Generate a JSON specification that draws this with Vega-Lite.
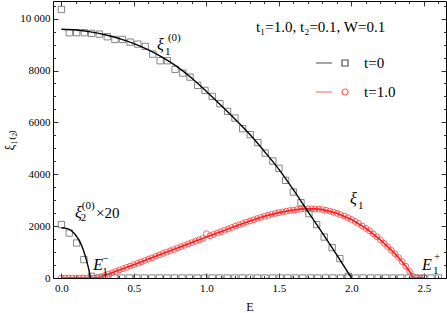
{
  "$schema": "https://vega.github.io/schema/vega-lite/v6.json",
  "width": 393,
  "height": 277,
  "autosize": {"type": "none"},
  "padding": {"left": 53, "top": 1, "right": 1, "bottom": 35},
  "background": "white",
  "config": {
    "view": {"stroke": "black", "strokeWidth": 1},
    "font": "Liberation Serif",
    "axis": {"labelFont": "Liberation Serif", "titleFont": "Liberation Serif", "labelColor": "black", "titleColor": "black", "tickColor": "black", "grid": false, "domain": false, "labelFontSize": 11, "titleFontSize": 12, "titleFontWeight": "normal", "tickWidth": 0.8},
    "legend": {"labelFont": "Liberation Serif"}
  },
  "datasets": {
    "sq1": [
      {"E": 0.0, "v": 10354}, {"E": 0.054, "v": 9457}, {"E": 0.105, "v": 9457}, {"E": 0.158, "v": 9457},
      {"E": 0.208, "v": 9430}, {"E": 0.261, "v": 9402}, {"E": 0.316, "v": 9302}, {"E": 0.369, "v": 9198},
      {"E": 0.421, "v": 9198}, {"E": 0.474, "v": 9094}, {"E": 0.527, "v": 9017}, {"E": 0.578, "v": 8929},
      {"E": 0.63, "v": 8632}, {"E": 0.681, "v": 8377}, {"E": 0.731, "v": 8377}, {"E": 0.784, "v": 8043},
      {"E": 0.837, "v": 7900}, {"E": 0.887, "v": 7746}, {"E": 0.94, "v": 7426}, {"E": 0.99, "v": 7233},
      {"E": 1.04, "v": 7002}, {"E": 1.093, "v": 6721}, {"E": 1.146, "v": 6424}, {"E": 1.197, "v": 6166},
      {"E": 1.25, "v": 5757}, {"E": 1.302, "v": 5526}, {"E": 1.355, "v": 5218}, {"E": 1.405, "v": 4817},
      {"E": 1.458, "v": 4509}, {"E": 1.5, "v": 4230}, {"E": 1.546, "v": 3765}, {"E": 1.599, "v": 3314},
      {"E": 1.652, "v": 2906}, {"E": 1.707, "v": 2482}, {"E": 1.76, "v": 2058}, {"E": 1.812, "v": 1580},
      {"E": 1.867, "v": 1171}, {"E": 1.92, "v": 748}, {"E": 1.978, "v": 65}
    ],
    "sq2": [
      {"E": 0.0, "v": 2058}, {"E": 0.054, "v": 1734}, {"E": 0.105, "v": 1349}, {"E": 0.155, "v": 709}, {"E": 0.208, "v": 65},
      {"E": 0.26, "v": 0}, {"E": 0.312, "v": 0}, {"E": 0.364, "v": 0}, {"E": 0.416, "v": 0}, {"E": 0.468, "v": 0},
      {"E": 0.52, "v": 0}, {"E": 0.572, "v": 0}, {"E": 0.624, "v": 0}, {"E": 0.676, "v": 0}, {"E": 0.728, "v": 0},
      {"E": 0.78, "v": 0}, {"E": 0.832, "v": 0}, {"E": 0.884, "v": 0}, {"E": 0.936, "v": 0}, {"E": 0.988, "v": 0},
      {"E": 1.04, "v": 0}, {"E": 1.092, "v": 0}, {"E": 1.144, "v": 0}, {"E": 1.196, "v": 0}, {"E": 1.248, "v": 0},
      {"E": 1.3, "v": 0}, {"E": 1.352, "v": 0}, {"E": 1.404, "v": 0}, {"E": 1.456, "v": 0}, {"E": 1.508, "v": 0},
      {"E": 1.56, "v": 0}, {"E": 1.612, "v": 0}, {"E": 1.664, "v": 0}, {"E": 1.716, "v": 0}, {"E": 1.768, "v": 0},
      {"E": 1.82, "v": 0}, {"E": 1.872, "v": 0}, {"E": 1.924, "v": 0}, {"E": 1.976, "v": 0}, {"E": 2.028, "v": 0},
      {"E": 2.08, "v": 0}, {"E": 2.132, "v": 0}, {"E": 2.184, "v": 0}, {"E": 2.236, "v": 0}, {"E": 2.288, "v": 0},
      {"E": 2.34, "v": 0}, {"E": 2.392, "v": 0}, {"E": 2.444, "v": 0}, {"E": 2.496, "v": 0}, {"E": 2.548, "v": 0},
      {"E": 2.6, "v": 0}
    ],
    "l1": [
      {"E": 0.0, "v": 9590}, {"E": 0.1, "v": 9560}, {"E": 0.2, "v": 9490}, {"E": 0.3, "v": 9380},
      {"E": 0.4, "v": 9230}, {"E": 0.5, "v": 9040}, {"E": 0.6, "v": 8800}, {"E": 0.7, "v": 8500},
      {"E": 0.8, "v": 8140}, {"E": 0.9, "v": 7700}, {"E": 1.0, "v": 7190}, {"E": 1.1, "v": 6660},
      {"E": 1.2, "v": 6110}, {"E": 1.3, "v": 5530}, {"E": 1.4, "v": 4880}, {"E": 1.5, "v": 4190},
      {"E": 1.6, "v": 3400}, {"E": 1.7, "v": 2560}, {"E": 1.8, "v": 1730}, {"E": 1.9, "v": 880},
      {"E": 2.0, "v": 0}
    ],
    "l2": [
      {"E": 0.0, "v": 1940}, {"E": 0.025, "v": 1925}, {"E": 0.05, "v": 1880}, {"E": 0.075, "v": 1790},
      {"E": 0.1, "v": 1640}, {"E": 0.125, "v": 1420}, {"E": 0.15, "v": 1100}, {"E": 0.175, "v": 640},
      {"E": 0.19, "v": 300}, {"E": 0.2, "v": 0}
    ],
    "rp": [
      {"E": 0.0, "v": 0}, {"E": 0.025, "v": 0}, {"E": 0.05, "v": 0}, {"E": 0.075, "v": 0}, {"E": 0.1, "v": 0},
      {"E": 0.125, "v": 0}, {"E": 0.15, "v": 0}, {"E": 0.175, "v": 0}, {"E": 0.2, "v": 0}, {"E": 0.225, "v": 0},
      {"E": 0.25, "v": 10}, {"E": 0.275, "v": 50}, {"E": 0.3, "v": 100}, {"E": 0.325, "v": 150}, {"E": 0.35, "v": 200},
      {"E": 0.375, "v": 255}, {"E": 0.4, "v": 305}, {"E": 0.425, "v": 360}, {"E": 0.45, "v": 410}, {"E": 0.475, "v": 460},
      {"E": 0.5, "v": 515}, {"E": 0.525, "v": 570}, {"E": 0.55, "v": 620}, {"E": 0.575, "v": 675}, {"E": 0.6, "v": 730},
      {"E": 0.625, "v": 780}, {"E": 0.65, "v": 835}, {"E": 0.675, "v": 890}, {"E": 0.7, "v": 945}, {"E": 0.725, "v": 995},
      {"E": 0.75, "v": 1050}, {"E": 0.775, "v": 1100}, {"E": 0.8, "v": 1155}, {"E": 0.825, "v": 1205}, {"E": 0.85, "v": 1260},
      {"E": 0.875, "v": 1315}, {"E": 0.9, "v": 1365}, {"E": 0.925, "v": 1420}, {"E": 0.95, "v": 1470}, {"E": 0.975, "v": 1525},
      {"E": 1.0, "v": 1710}, {"E": 1.025, "v": 1630}, {"E": 1.05, "v": 1680}, {"E": 1.075, "v": 1735}, {"E": 1.1, "v": 1785},
      {"E": 1.125, "v": 1840}, {"E": 1.15, "v": 1895}, {"E": 1.175, "v": 1945}, {"E": 1.2, "v": 2000}, {"E": 1.225, "v": 2050},
      {"E": 1.25, "v": 2100}, {"E": 1.275, "v": 2150}, {"E": 1.3, "v": 2200}, {"E": 1.325, "v": 2245}, {"E": 1.35, "v": 2290},
      {"E": 1.375, "v": 2335}, {"E": 1.4, "v": 2380}, {"E": 1.425, "v": 2420}, {"E": 1.45, "v": 2455}, {"E": 1.475, "v": 2490},
      {"E": 1.5, "v": 2520}, {"E": 1.525, "v": 2550}, {"E": 1.55, "v": 2575}, {"E": 1.575, "v": 2600}, {"E": 1.6, "v": 2620},
      {"E": 1.625, "v": 2640}, {"E": 1.65, "v": 2655}, {"E": 1.675, "v": 2665}, {"E": 1.7, "v": 2670}, {"E": 1.725, "v": 2670},
      {"E": 1.75, "v": 2665}, {"E": 1.775, "v": 2655}, {"E": 1.8, "v": 2635}, {"E": 1.825, "v": 2610}, {"E": 1.85, "v": 2580},
      {"E": 1.875, "v": 2540}, {"E": 1.9, "v": 2495}, {"E": 1.925, "v": 2445}, {"E": 1.95, "v": 2390}, {"E": 1.975, "v": 2325},
      {"E": 2.0, "v": 2255}, {"E": 2.025, "v": 2180}, {"E": 2.05, "v": 2100}, {"E": 2.075, "v": 2010}, {"E": 2.1, "v": 1915},
      {"E": 2.125, "v": 1815}, {"E": 2.15, "v": 1705}, {"E": 2.175, "v": 1590}, {"E": 2.2, "v": 1470}, {"E": 2.225, "v": 1340},
      {"E": 2.25, "v": 1205}, {"E": 2.275, "v": 1070}, {"E": 2.3, "v": 940}, {"E": 2.325, "v": 790}, {"E": 2.35, "v": 630},
      {"E": 2.375, "v": 450}, {"E": 2.4, "v": 260}, {"E": 2.425, "v": 60}, {"E": 2.45, "v": 0}, {"E": 2.475, "v": 0},
      {"E": 2.5, "v": 0}
    ],
    "rl": [
      {"E": 0.0, "v": 0}, {"E": 0.25, "v": 0}, {"E": 0.3, "v": 100}, {"E": 0.4, "v": 305}, {"E": 0.5, "v": 515},
      {"E": 0.6, "v": 730}, {"E": 0.7, "v": 945}, {"E": 0.8, "v": 1155}, {"E": 0.9, "v": 1365}, {"E": 1.0, "v": 1580},
      {"E": 1.1, "v": 1785}, {"E": 1.2, "v": 2000}, {"E": 1.3, "v": 2200}, {"E": 1.4, "v": 2380}, {"E": 1.5, "v": 2520},
      {"E": 1.6, "v": 2620}, {"E": 1.65, "v": 2655}, {"E": 1.7, "v": 2670}, {"E": 1.75, "v": 2665}, {"E": 1.8, "v": 2635},
      {"E": 1.9, "v": 2495}, {"E": 2.0, "v": 2255}, {"E": 2.1, "v": 1915}, {"E": 2.2, "v": 1470}, {"E": 2.3, "v": 940},
      {"E": 2.35, "v": 630}, {"E": 2.4, "v": 260}, {"E": 2.43, "v": 0}, {"E": 2.5, "v": 0}
    ],
    "ann": [
      {"E": 0.659, "v": 8775, "t": "ξ", "r": "main"},
      {"E": 0.714, "v": 8582, "t": "1", "r": "sub"},
      {"E": 0.7345, "v": 9121, "t": "(0)", "r": "sup"},
      {"E": 0.093, "v": 2332, "t": "ξ", "r": "main"},
      {"E": 0.134, "v": 2185, "t": "2", "r": "sub"},
      {"E": 0.141, "v": 2647, "t": "(0)", "r": "sup"},
      {"E": 0.238, "v": 2300, "t": "×20", "r": "plain"},
      {"E": 0.22, "v": 297, "t": "E", "r": "main"},
      {"E": 0.282, "v": 104, "t": "1", "r": "sub"},
      {"E": 0.282, "v": 605, "t": "−", "r": "sup"},
      {"E": 1.99, "v": 2840, "t": "ξ", "r": "main"},
      {"E": 2.045, "v": 2647, "t": "1", "r": "sub"},
      {"E": 2.486, "v": 297, "t": "E", "r": "main"},
      {"E": 2.562, "v": 143, "t": "1", "r": "sub"},
      {"E": 2.569, "v": 682, "t": "+", "r": "sup"},
      {"E": 1.341, "v": 9470, "t": "t₁=1.0, t₂=0.1, W=0.1", "r": "plain"}
    ]
  },
  "layer": [
    {
      "data": {"name": "rp"},
      "mark": {"type": "point", "shape": "circle", "filled": false, "stroke": "#ff4d4d", "strokeWidth": 0.9, "size": 34, "clip": true, "opacity": 1},
      "encoding": {
        "x": {"field": "E", "type": "quantitative", "scale": {"domain": [-0.058, 2.652], "nice": false, "zero": false},
          "axis": {"orient": "bottom", "values": [0,0.1,0.2,0.3,0.4,0.5,0.6,0.7,0.8,0.9,1,1.1,1.2,1.3,1.4,1.5,1.6,1.7,1.8,1.9,2,2.1,2.2,2.3,2.4,2.5,2.6],
            "labelExpr": "abs(datum.value*2 - round(datum.value*2)) < 0.001 ? format(datum.value, '.1f') : ''",
            "tickSize": {"condition": {"test": "abs(datum.value*2 - round(datum.value*2)) < 0.001", "value": -5}, "value": -2.5},
            "labelPadding": 9, "labelOverlap": false, "labelFlush": false, "title": "E", "titlePadding": 6}},
        "y": {"field": "v", "type": "quantitative", "scale": {"domain": [0, 10680], "nice": false},
          "axis": {"orient": "left", "values": [0,500,1000,1500,2000,2500,3000,3500,4000,4500,5000,5500,6000,6500,7000,7500,8000,8500,9000,9500,10000,10500],
            "labelExpr": "datum.value % 2000 == 0 ? (datum.value == 10000 ? '10 000' : format(datum.value, 'd')) : ''",
            "tickSize": {"condition": {"test": "datum.value % 2000 == 0", "value": -5}, "value": -2.5},
            "labelPadding": 8, "labelOverlap": false, "labelFlush": false, "title": "ξ₁₍₂₎", "titleFontSize": 13, "titlePadding": 3}}
      }
    },
    {
      "data": {"name": "rl"},
      "mark": {"type": "line", "color": "#ff1a1a", "strokeWidth": 1.6, "clip": true},
      "encoding": {
        "x": {"field": "E", "type": "quantitative",
          "axis": {"orient": "top", "values": [0,0.1,0.2,0.3,0.4,0.5,0.6,0.7,0.8,0.9,1,1.1,1.2,1.3,1.4,1.5,1.6,1.7,1.8,1.9,2,2.1,2.2,2.3,2.4,2.5,2.6],
            "labels": false, "title": null,
            "tickSize": {"condition": {"test": "abs(datum.value*2 - round(datum.value*2)) < 0.001", "value": -5}, "value": -2.5}}},
        "y": {"field": "v", "type": "quantitative",
          "axis": {"orient": "right", "values": [0,500,1000,1500,2000,2500,3000,3500,4000,4500,5000,5500,6000,6500,7000,7500,8000,8500,9000,9500,10000,10500],
            "labels": false, "title": null,
            "tickSize": {"condition": {"test": "datum.value % 2000 == 0", "value": -5}, "value": -2.5}}}
      }
    },
    {
      "data": {"name": "sq1"},
      "mark": {"type": "point", "shape": "square", "filled": false, "stroke": "#777777", "strokeWidth": 0.9, "size": 40, "clip": true, "opacity": 1},
      "encoding": {
        "x": {"field": "E", "type": "quantitative", "axis": null},
        "y": {"field": "v", "type": "quantitative", "axis": null}
      }
    },
    {
      "data": {"name": "sq2"},
      "mark": {"type": "point", "shape": "square", "filled": false, "stroke": "#777777", "strokeWidth": 0.9, "size": 40, "clip": true, "opacity": 1},
      "encoding": {
        "x": {"field": "E", "type": "quantitative", "axis": null},
        "y": {"field": "v", "type": "quantitative", "axis": null}
      }
    },
    {
      "data": {"name": "l1"},
      "mark": {"type": "line", "color": "black", "strokeWidth": 1.4, "interpolate": "monotone", "clip": true},
      "encoding": {
        "x": {"field": "E", "type": "quantitative", "axis": null},
        "y": {"field": "v", "type": "quantitative", "axis": null}
      }
    },
    {
      "data": {"name": "l2"},
      "mark": {"type": "line", "color": "black", "strokeWidth": 1.4, "interpolate": "monotone", "clip": true},
      "encoding": {
        "x": {"field": "E", "type": "quantitative", "axis": null},
        "y": {"field": "v", "type": "quantitative", "axis": null}
      }
    },
    {
      "data": {"name": "ann"},
      "transform": [{"filter": "datum.r == 'main'"}],
      "mark": {"type": "text", "align": "left", "baseline": "alphabetic", "fontSize": 16, "fontStyle": "italic", "font": "Liberation Serif", "color": "black"},
      "encoding": {
        "x": {"field": "E", "type": "quantitative", "axis": null},
        "y": {"field": "v", "type": "quantitative", "axis": null},
        "text": {"field": "t"}
      }
    },
    {
      "data": {"name": "ann"},
      "transform": [{"filter": "datum.r == 'sub' || datum.r == 'sup'"}],
      "mark": {"type": "text", "align": "left", "baseline": "alphabetic", "fontSize": 11, "font": "Liberation Serif", "color": "black"},
      "encoding": {
        "x": {"field": "E", "type": "quantitative", "axis": null},
        "y": {"field": "v", "type": "quantitative", "axis": null},
        "text": {"field": "t"}
      }
    },
    {
      "data": {"name": "ann"},
      "transform": [{"filter": "datum.r == 'plain'"}],
      "mark": {"type": "text", "align": "left", "baseline": "alphabetic", "fontSize": 15, "font": "Liberation Serif", "color": "black"},
      "encoding": {
        "x": {"field": "E", "type": "quantitative", "axis": null},
        "y": {"field": "v", "type": "quantitative", "axis": null},
        "text": {"field": "t"}
      }
    },
    {
      "data": {"values": []},
      "mark": {"type": "point", "filled": false, "strokeWidth": 1.2},
      "encoding": {
        "color": {"field": "s", "type": "nominal",
          "scale": {"domain": ["t=0", "t=1.0"], "range": ["black", "#ff1a1a"]},
          "legend": {"orient": "none", "legendX": 283, "legendY": 53, "title": null, "padding": 0, "symbolSize": 256, "symbolStrokeWidth": 1.2, "symbolFillColor": "transparent", "labelFontSize": 15, "labelOffset": 10, "rowPadding": 12, "labelFont": "Liberation Serif", "labelColor": "black"}},
        "shape": {"field": "s", "type": "nominal",
          "scale": {"domain": ["t=0", "t=1.0"], "range": ["M-3.625,0H-1.625M-0.375,-0.375H0.375V0.375H-0.375Z", "M-3.625,0H-1.625M-0.375,0A0.375,0.375,0,1,1,0.375,0A0.375,0.375,0,1,1,-0.375,0Z"]}}
      }
    }
  ]
}
